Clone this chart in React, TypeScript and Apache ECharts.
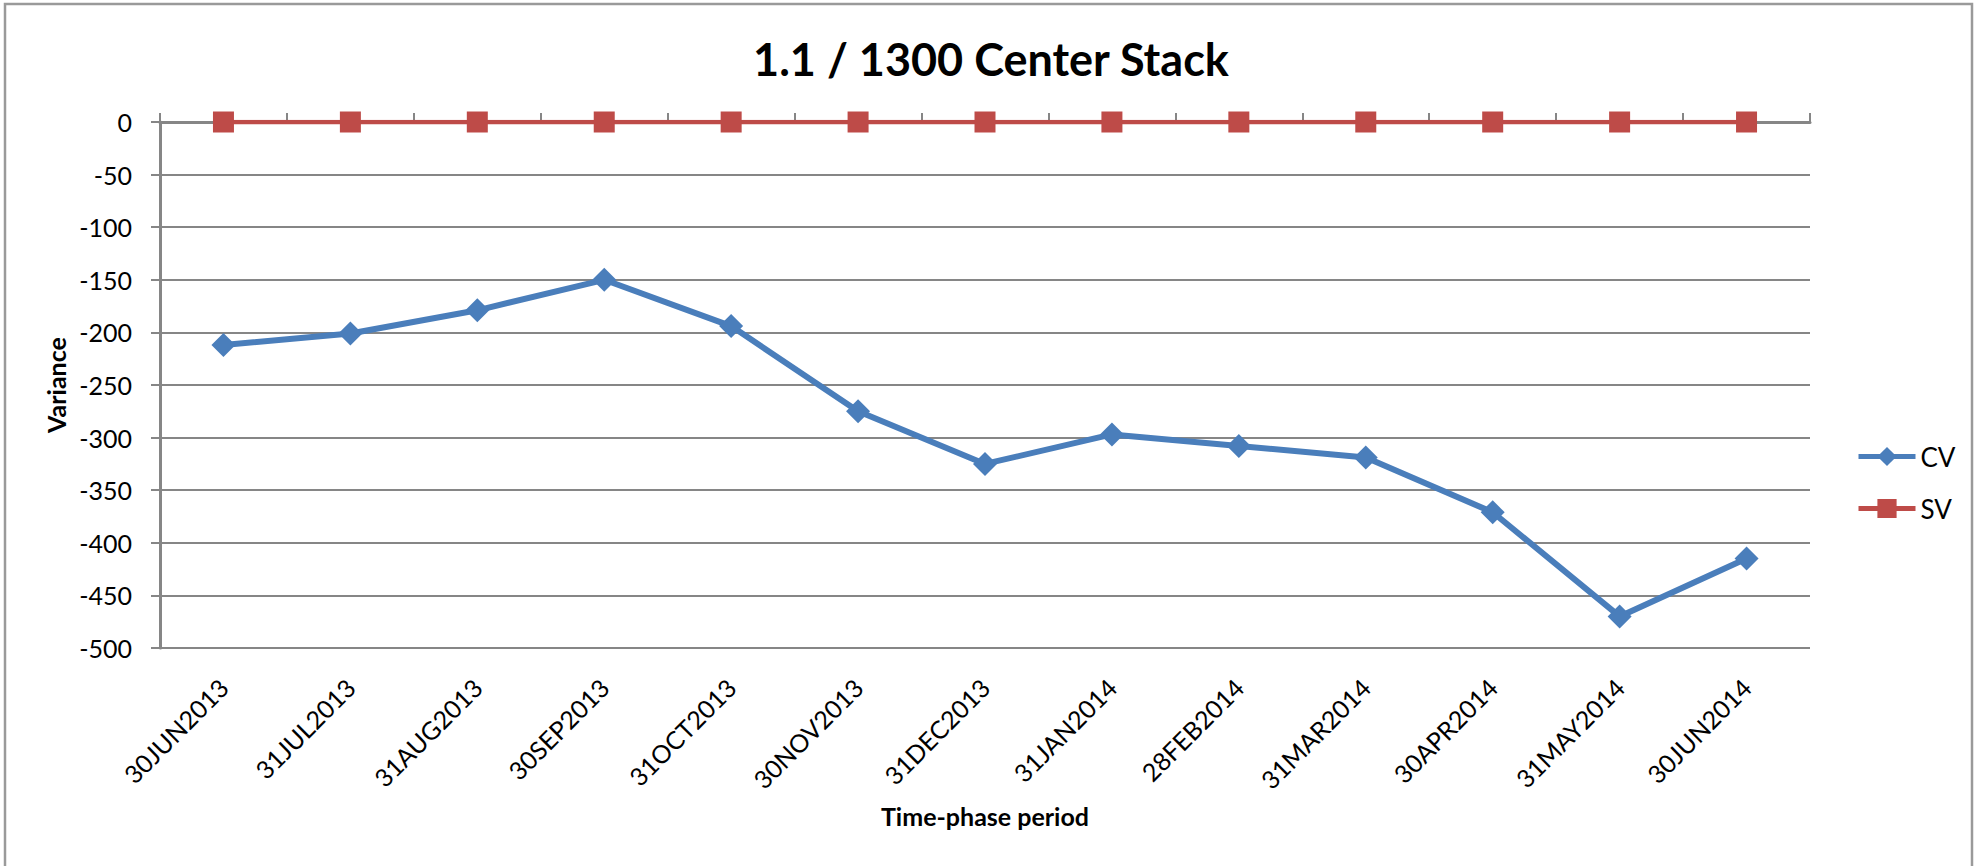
import React, { useEffect, useRef } from "react";
import * as echarts from "echarts";

const categories = [
  "30JUN2013", "31JUL2013", "31AUG2013", "30SEP2013", "31OCT2013", "30NOV2013",
  "31DEC2013", "31JAN2014", "28FEB2014", "31MAR2014", "30APR2014", "31MAY2014", "30JUN2014",
];
const cvValues = [-212, -201, -179, -150, -194, -275, -325, -297, -308, -319, -371, -470, -415];
const svValues = [0, 0, 0, 0, 0, 0, 0, 0, 0, 0, 0, 0, 0];
const chartTitle = "1.1 / 1300 Center Stack";
const yTitle = "Variance";
const xTitle = "Time-phase period";

const FONT = "Lato, 'Open Sans', sans-serif";
const GRAY = "#868686";

export default function App() {
  const ref = useRef<HTMLDivElement>(null);
  useEffect(() => {
    if (!ref.current) return;
    const chart = echarts.init(ref.current, null, { renderer: "svg" });
    chart.setOption({
      animation: false,
      backgroundColor: "#ffffff",
      textStyle: { fontFamily: FONT, color: "#000" },
      title: {
        text: chartTitle,
        left: "center",
        top: 28,
        textStyle: { fontFamily: FONT, fontSize: 45, fontWeight: "bold", color: "#000", lineHeight: 52 },
      },
      graphic: [
        {
          type: "rect",
          silent: true,
          z: -1,
          shape: { x: 5, y: 4, width: 1967, height: 900 },
          style: { fill: "none", stroke: "#9a9a9a", lineWidth: 2.5 },
        },
      ],
      legend: {
        orient: "vertical",
        left: 1851,
        top: 436,
        itemWidth: 57,
        itemHeight: 24,
        itemGap: 21,
        lineStyle: { width: 5 },
        textStyle: { fontFamily: FONT, fontSize: 26, color: "#000", lineHeight: 31 },
        data: ["CV", "SV"],
      },
      grid: { left: 160, right: 172, top: 122, bottom: 218, containLabel: false },
      xAxis: [
        {
          type: "category",
          position: "top",
          data: categories,
          boundaryGap: true,
          axisLine: { onZero: false, lineStyle: { color: GRAY, width: 3 } },
          axisTick: { show: true, inside: false, length: 9, lineStyle: { color: GRAY, width: 2 } },
          axisLabel: { show: false },
          splitLine: { show: false },
        },
        {
          type: "category",
          position: "bottom",
          data: categories,
          boundaryGap: true,
          axisLine: { show: false, onZero: false },
          axisTick: { show: false },
          axisLabel: {
            rotate: 45,
            margin: 35,
            fontFamily: FONT,
            fontSize: 25,
            color: "#000",
            interval: 0,
          },
          name: xTitle,
          nameLocation: "middle",
          nameGap: 155,
          nameTextStyle: { fontFamily: FONT, fontSize: 25, fontWeight: "bold", color: "#000" },
          splitLine: { show: false },
        },
      ],
      yAxis: {
        type: "value",
        min: -500,
        max: 0,
        interval: 50,
        axisLine: { show: true, onZero: false, lineStyle: { color: GRAY, width: 3 } },
        axisTick: { show: true, inside: false, length: 9, lineStyle: { color: GRAY, width: 2 } },
        axisLabel: { margin: 28, fontFamily: FONT, fontSize: 25, color: "#000" },
        splitLine: { show: true, lineStyle: { color: GRAY, width: 2 } },
        name: yTitle,
        nameLocation: "middle",
        nameGap: 86,
        nameRotate: 90,
        nameTextStyle: { fontFamily: FONT, fontSize: 25, fontWeight: "bold", color: "#000" },
      },
      series: [
        {
          name: "CV",
          type: "line",
          xAxisIndex: 0,
          data: cvValues,
          symbol: "diamond",
          symbolSize: 24,
          lineStyle: { color: "#4A7EBB", width: 6 },
          itemStyle: { color: "#4A7EBB" },
          z: 3,
        },
        {
          name: "SV",
          type: "line",
          xAxisIndex: 0,
          data: svValues,
          symbol: "rect",
          symbolSize: 21,
          lineStyle: { color: "#BE4B48", width: 4.5 },
          itemStyle: { color: "#BE4B48" },
          z: 4,
        },
      ],
    });
    return () => chart.dispose();
  }, []);
  return (
    <div
      ref={ref}
      style={{ position: "fixed", left: 0, top: 0, width: 1982, height: 866 }}
    />
  );
}
